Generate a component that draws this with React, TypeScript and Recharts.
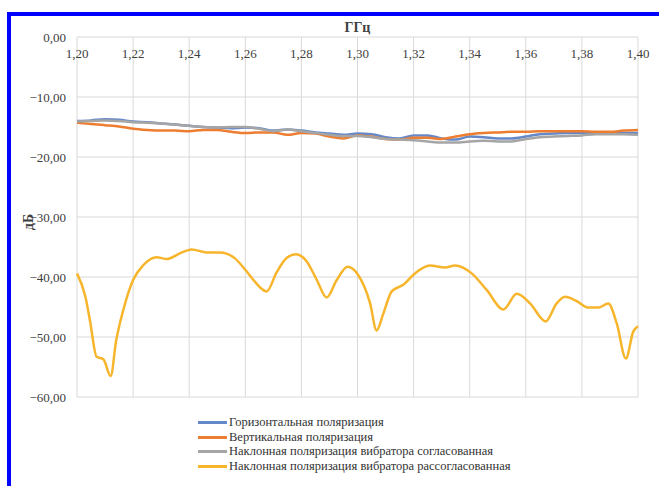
import { CartesianGrid, Line, LineChart, XAxis, YAxis } from 'recharts';

// частоты для трёх верхних кривых, ГГц
const freqs = [
  1.2, 1.205, 1.21, 1.215, 1.22, 1.225, 1.23, 1.235, 1.24, 1.245, 1.25, 1.255, 1.26, 1.265, 1.27, 1.275, 1.28, 1.285,
  1.29, 1.295, 1.3, 1.305, 1.31, 1.315, 1.32, 1.325, 1.33, 1.335, 1.34, 1.345, 1.35, 1.355, 1.36, 1.365, 1.37, 1.375,
  1.38, 1.385, 1.39, 1.395, 1.4,
];

const horizontal = [
  -14.0, -13.9, -13.7, -13.8, -14.1, -14.2, -14.4, -14.6, -14.8, -15.0, -15.1, -15.2, -15.1, -15.2, -15.6, -15.4, -15.6,
  -15.9, -16.1, -16.3, -16.1, -16.2, -16.7, -16.9, -16.4, -16.4, -16.9, -17.1, -16.6, -16.7, -16.9, -16.9, -16.6, -16.2,
  -16.1, -16.0, -16.0, -16.0, -16.0, -16.0, -16.0,
];

const vertical = [
  -14.3, -14.5, -14.7, -14.9, -15.3, -15.5, -15.6, -15.6, -15.7, -15.5, -15.5, -15.8, -16.0, -15.9, -15.9, -16.3, -16.0,
  -16.1, -16.6, -16.9, -16.4, -16.6, -17.0, -17.1, -16.8, -16.8, -17.0, -16.6, -16.2, -16.0, -15.9, -15.8, -15.8, -15.7,
  -15.7, -15.7, -15.7, -15.8, -15.8, -15.6, -15.5,
];

const slantMatched = [
  -14.1, -14.0, -13.9, -14.0, -14.2, -14.3, -14.4, -14.6, -14.8, -15.0, -15.1, -15.0, -15.0, -15.3, -15.7, -15.4, -15.7,
  -16.0, -16.3, -16.5, -16.5, -16.7, -17.0, -17.1, -17.2, -17.4, -17.6, -17.6, -17.4, -17.3, -17.4, -17.4, -17.0, -16.7,
  -16.6, -16.5, -16.4, -16.2, -16.2, -16.2, -16.3,
];

// рассогласованный вибратор — свои точки по частоте
const mismatchFreqs = [
  1.2, 1.203, 1.2046, 1.207, 1.2094, 1.212, 1.214, 1.2165, 1.22, 1.2237, 1.2284, 1.232, 1.2367, 1.2409, 1.2462, 1.251,
  1.2563, 1.26, 1.2629, 1.2676, 1.2712, 1.2748, 1.2781, 1.2819, 1.2855, 1.289, 1.2926, 1.2965, 1.3, 1.3045, 1.3068,
  1.3092, 1.3122, 1.3163, 1.3205, 1.3258, 1.3312, 1.3348, 1.3407, 1.3461, 1.352, 1.3568, 1.3615, 1.3671, 1.371, 1.374,
  1.3781, 1.3823, 1.3859, 1.3894, 1.3924, 1.3957, 1.3983, 1.4,
];

const slantMismatched = [
  -39.4, -43.3, -47.2, -53.3, -53.7, -56.5, -50.5, -45.5, -40.5, -38.0, -36.7, -37.0, -36.05, -35.4, -35.9, -35.9,
  -36.9, -38.8, -40.5, -42.4, -39.2, -36.8, -36.2, -37.4, -40.5, -43.4, -40.5, -38.3, -39.5, -44.4, -48.9, -46.1, -42.4,
  -41.3, -39.4, -38.1, -38.4, -38.1, -39.4, -42.2, -45.4, -42.8, -44.4, -47.4, -44.4, -43.3, -44.0, -45.1, -45.1, -44.4,
  -47.7, -53.6, -49.1, -48.2,
];

const xTicks = [1.2, 1.22, 1.24, 1.26, 1.28, 1.3, 1.32, 1.34, 1.36, 1.38, 1.4];
const yTicks = [-60, -50, -40, -30, -20, -10, 0];

const seriesNames = [
  'Горизонтальная поляризация',
  'Вертикальная поляризация',
  'Наклонная поляризация вибратора согласованная',
  'Наклонная поляризация вибратора рассогласованная',
];
const colors = ['#6588c8', '#ed7d31', '#a5a5a5', '#f7b52c'];

const data = freqs.map((f, i) => ({ f, h: horizontal[i], v: vertical[i], m: slantMatched[i] }));
const mismatchData = mismatchFreqs.map((f, i) => ({ f, x: slantMismatched[i] }));

const font = 'Liberation Serif, Times New Roman, serif';
const fmt = (n: number, d: number) => n.toFixed(d).replace('.', ',').replace('-', '\u2212');

export default function App() {
  return (
    <div
      style={{
        position: 'fixed',
        left: 0,
        top: 0,
        width: 659,
        height: 486,
        overflow: 'hidden',
        background: '#fff',
        fontFamily: font,
      }}
    >
      <div
        style={{
          position: 'absolute',
          left: 7,
          top: 12,
          width: 720,
          height: 540,
          border: '4px solid #0000ff',
        }}
      />
      <div style={{ position: 'absolute', left: 0, top: 0 }}>
        <LineChart width={659} height={486} margin={{ top: 37, right: 21, left: 0, bottom: 89 }}>
          <CartesianGrid stroke='#d9d9d9' strokeWidth={1} />
          <XAxis
            xAxisId={0}
            type='number'
            dataKey='f'
            orientation='top'
            mirror
            domain={[1.2, 1.4]}
            ticks={xTicks}
            tickFormatter={(v: number) => fmt(v, 2)}
            axisLine={false}
            tickLine={false}
            tickSize={0}
            tickMargin={12}
            tick={{ fill: '#404040', fontSize: 13, fontFamily: font }}
            label={{
              value: 'ГГц',
              position: 'top',
              offset: 5,
              style: { fill: '#404040', fontSize: 14, fontWeight: 700, fontFamily: font },
            }}
          />
          <YAxis
            type='number'
            domain={[-60, 0]}
            ticks={yTicks}
            width={77}
            tickFormatter={(v: number) => fmt(v, 2)}
            axisLine={false}
            tickLine={false}
            tickSize={0}
            tickMargin={11}
            tick={{ fill: '#404040', fontSize: 13, fontFamily: font }}
            label={({ viewBox }: any) => {
              const cx = viewBox.x + 28;
              const cy = viewBox.y + viewBox.height / 2 + 5;
              return (
                <text
                  x={cx}
                  y={cy}
                  transform={`rotate(-90 ${cx} ${cy})`}
                  textAnchor='middle'
                  dominantBaseline='central'
                  fill='#404040'
                  fontSize={14}
                  fontWeight={700}
                  fontFamily={font}
                >
                  дБ
                </text>
              );
            }}
          />
          <Line data={data} type='monotone' dataKey='h' stroke={colors[0]} strokeWidth={2.5} dot={false} isAnimationActive={false} />
          <Line data={data} type='monotone' dataKey='v' stroke={colors[1]} strokeWidth={2.5} dot={false} isAnimationActive={false} />
          <Line data={data} type='monotone' dataKey='m' stroke={colors[2]} strokeWidth={2.5} dot={false} isAnimationActive={false} />
          <Line
            data={mismatchData}
            type='monotone'
            dataKey='x'
            stroke={colors[3]}
            strokeWidth={2.5}
            dot={false}
            isAnimationActive={false}
          />
        </LineChart>
      </div>
      <div style={{ position: 'absolute', left: 198, top: 415, fontSize: 12.5, color: '#333', lineHeight: '14.7px' }}>
        {seriesNames.map((name, i) => (
          <div key={name} style={{ display: 'flex', alignItems: 'center', height: 14.7 }}>
            <span style={{ display: 'inline-block', width: 29, height: 3, background: colors[i], marginRight: 2 }} />
            <span>{name}</span>
          </div>
        ))}
      </div>
    </div>
  );
}
